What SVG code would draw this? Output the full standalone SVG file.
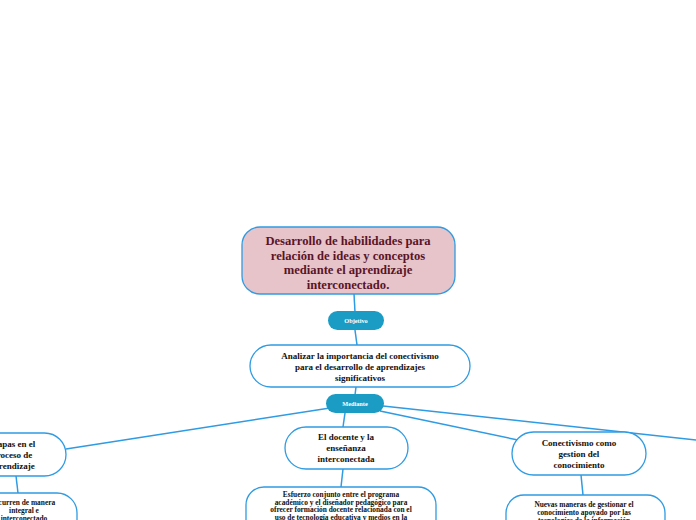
<svg xmlns="http://www.w3.org/2000/svg" width="696" height="520" viewBox="0 0 696 520">
<style>
.n{fill:#fff;stroke:#2f9be3;stroke-width:1.3}
.m{fill:#e6c4c9;stroke:#2f9be3;stroke-width:1.3}
.p{fill:#1a9cc5}
.c{stroke:#2f9be3;stroke-width:1.5;fill:none}
text{font-family:"Liberation Serif",serif;font-weight:bold;text-anchor:middle}
.mt{fill:#5a1428;font-size:12.6px}
.t{fill:#111;font-size:9px}
.s{fill:#111;font-size:7.4px}
.pt{fill:#fff;font-size:6.3px}
</style>
<rect width="696" height="520" fill="#fff"/>
<g id="connectors">
<line class="c" x1="354" y1="294" x2="355" y2="312"/>
<line class="c" x1="355" y1="330" x2="357" y2="345"/>
<line class="c" x1="356" y1="387" x2="355" y2="395"/>
<line class="c" x1="330" y1="408" x2="66" y2="449"/>
<line class="c" x1="345" y1="413" x2="343" y2="427"/>
<line class="c" x1="380" y1="411" x2="518" y2="440"/>
<line class="c" x1="383" y1="406" x2="696" y2="440"/>
<line class="c" x1="16" y1="476" x2="18" y2="493"/>
<line class="c" x1="343" y1="469" x2="341" y2="487"/>
<line class="c" x1="581" y1="475" x2="583" y2="495"/>
</g>
<g id="main">
<rect class="m" x="242" y="227" width="213" height="67" rx="18"/>
<text class="mt" x="348" y="245">Desarrollo de habilidades para</text>
<text class="mt" x="348" y="260">relación de ideas y conceptos</text>
<text class="mt" x="348" y="274">mediante el aprendizaje</text>
<text class="mt" x="348" y="289">interconectado.</text>
</g>
<g id="objetivo">
<rect class="p" x="328" y="311" width="56" height="19" rx="9.5"/>
<text class="pt" x="356" y="322.5">Objetivo</text>
</g>
<g id="analizar">
<rect class="n" x="250" y="345" width="220" height="42" rx="21"/>
<text class="t" x="360" y="359">Analizar la importancia del conectivismo</text>
<text class="t" x="360" y="370">para el desarrollo de aprendizajes</text>
<text class="t" x="360" y="381">significativos</text>
</g>
<g id="mediante">
<rect class="p" x="326" y="394" width="58" height="19" rx="9.5"/>
<text class="pt" x="355" y="405.5">Mediante</text>
</g>
<g id="etapas">
<rect class="n" x="-44" y="433" width="110" height="43" rx="21.5"/>
<text class="t" x="12" y="447">Etapas en el</text>
<text class="t" x="12" y="458">proceso de</text>
<text class="t" x="12" y="469">aprendizaje</text>
</g>
<g id="ocurren">
<rect class="n" x="-29" y="493" width="106" height="60" rx="20"/>
<text class="s" x="24" y="505">Ocurren de manera</text>
<text class="s" x="24" y="513">integral e</text>
<text class="s" x="24" y="521">interconectado</text>
</g>
<g id="docente">
<rect class="n" x="285" y="427" width="123" height="42" rx="21"/>
<text class="t" x="346" y="440">El docente y la</text>
<text class="t" x="346" y="451">enseñanza</text>
<text class="t" x="346" y="462">interconectada</text>
</g>
<g id="esfuerzo">
<rect class="n" x="246" y="487" width="190" height="60" rx="18"/>
<text class="s" x="341" y="497">Esfuerzo conjunto entre el programa</text>
<text class="s" x="341" y="504.5">académico y el diseñador pedagógico para</text>
<text class="s" x="341" y="512">ofrecer formación docente relacionada con el</text>
<text class="s" x="341" y="520">uso de tecnología educativa y medios en la</text>
</g>
<g id="conectivismo">
<rect class="n" x="512" y="432" width="134" height="43" rx="21.5"/>
<text class="t" x="579" y="446">Conectivismo como</text>
<text class="t" x="579" y="457">gestion del</text>
<text class="t" x="579" y="468">conocimiento</text>
</g>
<g id="nuevas">
<rect class="n" x="506" y="495" width="159" height="60" rx="18"/>
<text class="s" x="584" y="507">Nuevas maneras de gestionar el</text>
<text class="s" x="584" y="515">conocimiento apoyado por las</text>
<text class="s" x="584" y="523">tecnologías de la información</text>
</g>
</svg>
